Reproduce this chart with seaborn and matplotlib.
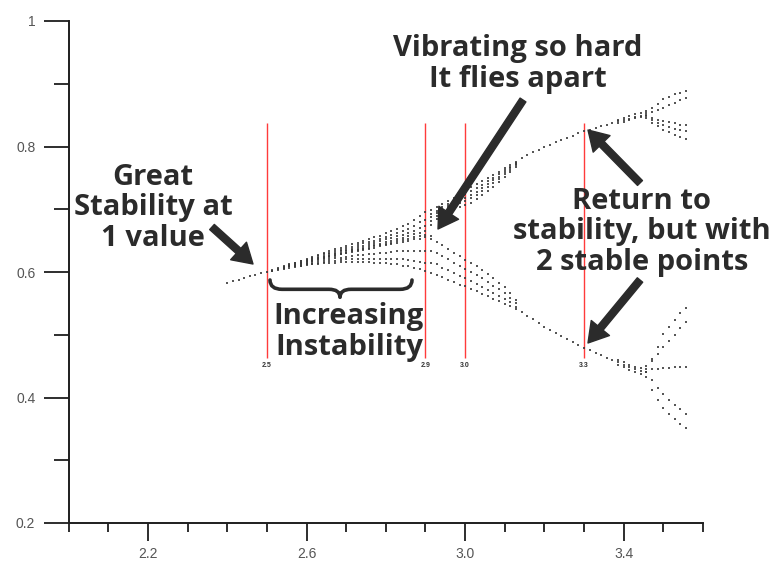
import matplotlib
matplotlib.use("Agg")
import matplotlib.pyplot as plt
import seaborn as sns
import pandas as pd
from matplotlib.path import Path
from matplotlib.patches import PathPatch

# ---------------- data ----------------
r_grid = [2.400, 2.414, 2.429, 2.443, 2.457, 2.471, 2.486, 2.500, 2.514, 2.529,
          2.543, 2.557, 2.571, 2.586, 2.600, 2.614, 2.629, 2.643, 2.657, 2.671,
          2.686, 2.700, 2.714, 2.729, 2.743, 2.757, 2.771, 2.786, 2.800, 2.814,
          2.829, 2.843, 2.857, 2.871, 2.886, 2.900, 2.914, 2.929, 2.943, 2.957,
          2.971, 2.986, 3.000, 3.014, 3.029, 3.043, 3.057, 3.071, 3.086, 3.100,
          3.114, 3.129, 3.143, 3.157, 3.171, 3.186, 3.200, 3.214, 3.229, 3.243,
          3.257, 3.271, 3.286, 3.300, 3.314, 3.329, 3.343, 3.357, 3.371, 3.386,
          3.400, 3.414, 3.429, 3.443, 3.457, 3.471, 3.486, 3.500, 3.514, 3.529,
          3.543, 3.557]

# upper envelope / upper branch (starts at r_grid[0])
top_track = [0.583, 0.586, 0.588, 0.591, 0.593, 0.595, 0.598, 0.600,
             0.603, 0.606, 0.609, 0.612, 0.615, 0.618, 0.621, 0.624, 0.627, 0.630,
             0.633, 0.636, 0.638, 0.641, 0.644, 0.647, 0.650, 0.652, 0.655, 0.658,
             0.662, 0.665, 0.669, 0.673, 0.677, 0.683, 0.690, 0.695,
             0.699, 0.703, 0.708, 0.713, 0.718, 0.724, 0.730, 0.735, 0.740, 0.745,
             0.750, 0.755, 0.760, 0.765, 0.770, 0.775,
             0.782, 0.786, 0.791, 0.795, 0.800, 0.803, 0.807, 0.811, 0.814, 0.817,
             0.821, 0.824, 0.827, 0.829, 0.832, 0.835, 0.837, 0.840, 0.842, 0.844,
             0.847, 0.849,
             0.853, 0.861, 0.868, 0.875, 0.879, 0.883, 0.886, 0.888]
top_start = 0

# lower envelope / lower branch (starts at r_grid[8])
bottom_track = [0.601, 0.603, 0.605, 0.606, 0.608, 0.609, 0.611, 0.612, 0.613, 0.614,
                0.615, 0.615, 0.616, 0.616, 0.616, 0.616, 0.616, 0.616, 0.615, 0.615,
                0.614, 0.613, 0.612, 0.610, 0.609, 0.607, 0.604, 0.602,
                0.599, 0.596, 0.592, 0.588, 0.584, 0.580, 0.577, 0.573, 0.569, 0.565,
                0.561, 0.557, 0.553, 0.549, 0.546, 0.541,
                0.537, 0.530, 0.525, 0.519, 0.513, 0.508, 0.503, 0.498, 0.493, 0.488,
                0.484, 0.479, 0.475, 0.471, 0.467, 0.463, 0.460, 0.456, 0.452, 0.449,
                0.445, 0.442,
                0.432, 0.412, 0.396, 0.383, 0.373, 0.365, 0.358, 0.352]
bottom_start = 8

center_track = [0.602, 0.605, 0.607, 0.609, 0.611, 0.613, 0.615, 0.617, 0.620, 0.622,
                0.624, 0.626, 0.628, 0.630, 0.632, 0.634, 0.635, 0.637, 0.639, 0.641,
                0.643, 0.645, 0.647, 0.648, 0.650, 0.652, 0.653, 0.655, 0.657]
center_start = 8

upper2_track = [0.608, 0.611, 0.614, 0.617, 0.619, 0.622, 0.625, 0.628, 0.630, 0.633,
                0.635, 0.638, 0.640, 0.643, 0.646, 0.648, 0.650, 0.653, 0.656, 0.659,
                0.662, 0.666, 0.669, 0.674, 0.679, 0.683,
                0.693, 0.698, 0.704, 0.709, 0.714, 0.719, 0.724, 0.729, 0.734, 0.739,
                0.745, 0.750, 0.756, 0.762, 0.768, 0.773]
upper3_track = [0.608, 0.610, 0.613, 0.615, 0.618, 0.620, 0.623, 0.626, 0.628, 0.631,
                0.633, 0.635, 0.637, 0.640, 0.642, 0.644, 0.646, 0.649, 0.652, 0.654,
                0.657, 0.659, 0.662, 0.666, 0.670, 0.673,
                0.687, 0.694, 0.700, 0.705, 0.710, 0.714, 0.718, 0.723, 0.728, 0.734,
                0.740, 0.746, 0.752, 0.759, 0.765, 0.772]
upper4_track = [0.608, 0.610, 0.612, 0.614, 0.617, 0.619, 0.622, 0.624, 0.626, 0.629,
                0.631, 0.633, 0.635, 0.637, 0.639, 0.641, 0.643, 0.645, 0.648, 0.650,
                0.653, 0.654, 0.657, 0.660, 0.662, 0.665,
                0.682, 0.690, 0.697, 0.702, 0.706, 0.710, 0.713, 0.718, 0.723, 0.729,
                0.735, 0.742, 0.749, 0.756, 0.763, 0.770]
upper5_track = [0.607, 0.609, 0.611, 0.614, 0.616, 0.618, 0.621, 0.623, 0.625, 0.627,
                0.629, 0.631, 0.633, 0.635, 0.637, 0.639, 0.641, 0.643, 0.645, 0.647,
                0.649, 0.651, 0.653, 0.655, 0.657, 0.659,
                0.675, 0.685, 0.692, 0.697, 0.701, 0.704, 0.706, 0.710, 0.716, 0.722,
                0.729, 0.736, 0.744, 0.752, 0.760, 0.768]
upper_inner_start = 10

lower1_track = [0.610, 0.611, 0.613, 0.615, 0.617, 0.619, 0.620, 0.622, 0.623, 0.624,
                0.626, 0.627, 0.627, 0.629, 0.629, 0.631, 0.631, 0.632, 0.633, 0.633,
                0.634, 0.634, 0.633, 0.634,
                0.652, 0.648, 0.643, 0.637, 0.631, 0.625, 0.619, 0.614, 0.609, 0.603,
                0.597, 0.590, 0.583, 0.576, 0.566, 0.556]
lower2_track = [0.609, 0.610, 0.612, 0.613, 0.615, 0.616, 0.617, 0.618, 0.619, 0.620,
                0.620, 0.620, 0.621, 0.621, 0.621, 0.621, 0.621, 0.621, 0.621, 0.620,
                0.619, 0.618, 0.616, 0.615,
                0.633, 0.630, 0.625, 0.620, 0.615, 0.609, 0.604, 0.600, 0.595, 0.590,
                0.584, 0.578, 0.573, 0.567, 0.559, 0.551]
lower_inner_start = 12
lower3_track = [0.615, 0.612, 0.607, 0.603, 0.598, 0.594, 0.590, 0.585, 0.581, 0.576,
                0.572, 0.567, 0.562, 0.557, 0.552, 0.545]
lower3_start = 36

# slow convergence near the second split (start at r_grid[69])
near_split_up_a = [0.843, 0.845, 0.848, 0.851, 0.854]
near_split_up_b = [0.837, 0.839, 0.842, 0.845, 0.847]
near_split_lo_a = [0.459, 0.456, 0.452, 0.449, 0.447]
near_split_lo_b = [0.452, 0.448, 0.444, 0.440, 0.437]
near_split_start = 69

# four-cycle region (start at r_grid[74])
upper_sub = [0.846, 0.838, 0.832, 0.827, 0.823, 0.819, 0.815, 0.812]
upper_mid = [0.850, 0.846, 0.843, 0.841, 0.839, 0.837, 0.835, 0.834]
upper_x1 = [0.856, 0.855, 0.858, 0.862, 0.866, 0.870, 0.874, 0.878]
upper_x2 = [0.848, 0.842, 0.838, 0.834, 0.831, 0.828, 0.826, 0.824]
lower_sub = [0.440, 0.462, 0.481, 0.501, 0.513, 0.524, 0.534, 0.542]
lower_mid = [0.446, 0.446, 0.446, 0.447, 0.447, 0.448, 0.448, 0.449]
lower_x1 = [0.450, 0.458, 0.470, 0.480, 0.490, 0.500, 0.510, 0.520]
lower_x2 = [0.440, 0.428, 0.415, 0.405, 0.396, 0.388, 0.381, 0.374]
four_cycle_start = 74

red_x = [2.5, 2.9, 3.0, 3.3]
red_labels = ["2.5", "2.9", "3.0", "3.3"]

x_major = [2.2, 2.6, 3.0, 3.4]
x_major_labels = ["2.2", "2.6", "3.0", "3.4"]
x_minor = [2.0, 2.1, 2.3, 2.4, 2.5, 2.7, 2.8, 2.9, 3.1, 3.2, 3.3, 3.5, 3.6]
y_major = [0.2, 0.4, 0.6, 0.8, 1.0]
y_major_labels = ["0.2", "0.4", "0.6", "0.8", "1"]
y_minor = [0.3, 0.5, 0.7, 0.9]

# ---------------- build long table ----------------
tracks = [
    (top_start, top_track), (bottom_start, bottom_track), (center_start, center_track),
    (upper_inner_start, upper2_track), (upper_inner_start, upper3_track),
    (upper_inner_start, upper4_track), (upper_inner_start, upper5_track),
    (lower_inner_start, lower1_track), (lower_inner_start, lower2_track),
    (lower3_start, lower3_track),
    (near_split_start, near_split_up_a), (near_split_start, near_split_up_b),
    (near_split_start, near_split_lo_a), (near_split_start, near_split_lo_b),
    (four_cycle_start, upper_sub), (four_cycle_start, upper_mid),
    (four_cycle_start, upper_x1), (four_cycle_start, upper_x2),
    (four_cycle_start, lower_sub), (four_cycle_start, lower_mid),
    (four_cycle_start, lower_x1), (four_cycle_start, lower_x2),
]
rows = []
for start, vals in tracks:
    for i, v in enumerate(vals):
        rows.append({"r": r_grid[start + i], "x": v})
df = pd.DataFrame(rows)

# ---------------- figure ----------------
sns.set_style("white")
plt.rcParams["font.family"] = ["Liberation Sans", "DejaVu Sans"]

W, H = 770, 564
fig = plt.figure(figsize=(W / 100, H / 100), dpi=100)
ax_l, ax_r, ax_t, ax_b = 68.6, 703, 21, 523
ax = fig.add_axes([ax_l / W, 1 - ax_b / H, (ax_r - ax_l) / W, (ax_b - ax_t) / H])

sns.scatterplot(data=df, x="r", y="x", marker="s", s=1.6, color="#3a3a3a",
                alpha=0.85, linewidth=0, legend=False, ax=ax, zorder=3)

ax.set_xlim(2.0, 3.6)
ax.set_ylim(0.2, 1.0)
ax.set_xlabel("")
ax.set_ylabel("")
for side in ["top", "right"]:
    ax.spines[side].set_visible(False)
for side in ["left", "bottom"]:
    ax.spines[side].set_color("#1e1e1e")
    ax.spines[side].set_linewidth(1.4)

ax.set_xticks(x_major)
ax.set_xticklabels(x_major_labels)
ax.set_xticks(x_minor, minor=True)
ax.set_yticks(y_major)
ax.set_yticklabels(y_major_labels)
ax.set_yticks(y_minor, minor=True)
ax.tick_params(axis="x", which="major", direction="out", length=13, width=1.3,
               color="#1e1e1e", labelsize=10, labelcolor="#555555", pad=4, bottom=True)
ax.tick_params(axis="x", which="minor", direction="out", length=6.7, width=1.3,
               color="#1e1e1e", bottom=True)
ax.tick_params(axis="y", which="major", direction="out", length=18, width=1.3,
               color="#1e1e1e", labelsize=10, labelcolor="#555555", pad=6, left=True)
ax.tick_params(axis="y", which="minor", direction="out", length=11, width=1.3,
               color="#1e1e1e", left=True)
ax.grid(False)

# red marker lines
ax.vlines(red_x, 0.4625, 0.837, colors="#ff3b3b", linewidth=1.0, zorder=2)
for xv, lab in zip(red_x, red_labels):
    ax.text(xv, 0.4506, lab, ha="center", va="center", fontsize=5,
            fontweight="bold", color="#333333")

# ---------------- annotations (pixel layout) ----------------
def fp(px, py):
    return (px / W, 1 - py / H)

txt_kw = dict(fontsize=21, fontweight="bold", color="#2b2b2b", ha="center",
              va="center", multialignment="center", linespacing=1.05,
              family=["Open Sans", "DejaVu Sans"])
fig.text(*fp(153, 208), "Great\nStability at\n1 value", **txt_kw)
fig.text(*fp(518, 64), "Vibrating so hard\nIt flies apart", **txt_kw)
fig.text(*fp(349, 332), "Increasing\nInstability", **txt_kw)
fig.text(*fp(642, 232), "Return to\nstability, but with\n2 stable points", **txt_kw)

arrow_kw = dict(width=5, headwidth=17, headlength=14, color="#2b2b2b", shrink=0)
for tail, tip in [((212, 227), (253, 264)),
                  ((523, 100), (438, 229)),
                  ((640, 183), (588, 130)),
                  ((640, 280), (588, 343))]:
    ax.annotate("", xy=fp(*tip), xytext=fp(*tail), xycoords="figure fraction",
                textcoords="figure fraction", arrowprops=arrow_kw)

# curly brace
bp = [(270, 280), (270, 289.3), (282, 289.3),
      (329, 289.3), (340, 289.3), (340, 297.3),
      (340, 289.3), (351, 289.3),
      (400, 289.3), (412, 289.3), (412, 280)]
verts = [fp(*p) for p in bp]
codes = [Path.MOVETO, Path.CURVE3, Path.CURVE3,
         Path.LINETO, Path.CURVE3, Path.CURVE3,
         Path.CURVE3, Path.CURVE3,
         Path.LINETO, Path.CURVE3, Path.CURVE3]
brace = PathPatch(Path(verts, codes), transform=fig.transFigure, fill=False,
                  edgecolor="#2b2b2b", linewidth=2.6, capstyle="round",
                  joinstyle="round")
fig.add_artist(brace)

fig.savefig("out.png", dpi=100)
